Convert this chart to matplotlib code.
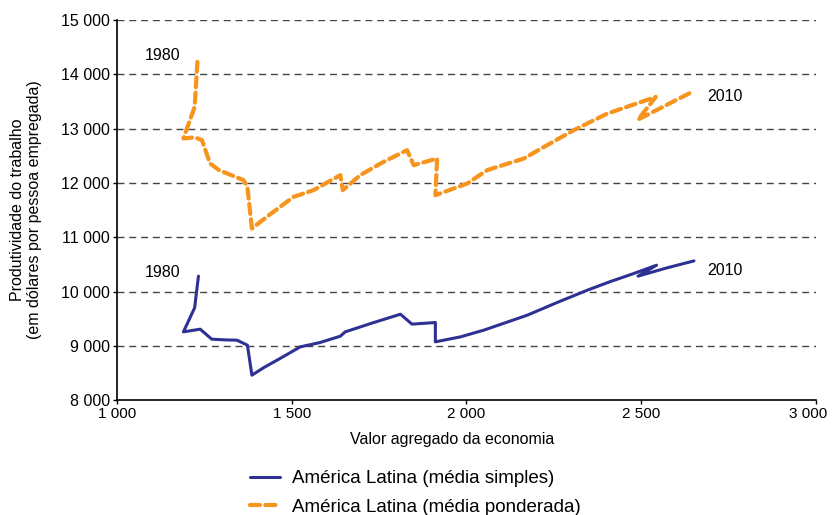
import matplotlib.pyplot as plt
import matplotlib.transforms as mtransforms
from matplotlib.ticker import FuncFormatter

plt.rcParams['font.family'] = ['Liberation Sans', 'DejaVu Sans']

# Valor agregado (x) e produtividade (y), 1980-2010
x_simples = [1233, 1222, 1190, 1238, 1271, 1310, 1343, 1373, 1386, 1420, 1470,
             1524, 1580, 1639, 1653, 1730, 1811, 1844, 1911, 1911, 1983, 2050,
             2174, 2260, 2346, 2410, 2479, 2544, 2491, 2570, 2651]
y_simples = [10284, 9700, 9258, 9307, 9123, 9110, 9105, 9013, 8460, 8600, 8780,
             8981, 9060, 9178, 9258, 9420, 9583, 9400, 9430, 9074, 9166, 9290,
             9565, 9800, 10026, 10180, 10333, 10486, 10284, 10430, 10565]

x_ponderada = [1230, 1222, 1190, 1222, 1243, 1266, 1292, 1362, 1373, 1386, 1410,
               1450, 1505, 1562, 1639, 1646, 1696, 1760, 1830, 1849, 1916, 1911,
               2002, 2059, 2164, 2222, 2307, 2403, 2542, 2491, 2651]
y_ponderada = [14230, 13400, 12820, 12840, 12790, 12360, 12236, 12052, 11928, 11160, 11284,
               11480, 11744, 11867, 12144, 11867, 12144, 12380, 12604, 12328, 12450, 11775,
               11990, 12236, 12450, 12665, 12972, 13278, 13585, 13168, 13695]

x_ticks = [1000, 1500, 2000, 2500, 3000]
y_ticks = [8000, 9000, 10000, 11000, 12000, 13000, 14000, 15000]

fig = plt.figure(figsize=(8.33, 5.15), dpi=100)
ax = fig.add_axes([0.1405, 0.223, 0.839, 0.738])

for y in y_ticks[1:]:
    ax.axhline(y, color='#444444', lw=1, ls=(0, (5, 3.5)), zorder=0)

ax.plot(x_simples, y_simples, color='#2e3192', lw=2.2, solid_joinstyle='round',
        solid_capstyle='round', label='América Latina (média simples)')
ax.plot(x_ponderada, y_ponderada, color='#f7941d', lw=3, ls=(0, (2.4, 1.3)),
        dash_capstyle='round', label='América Latina (média ponderada)')

ax.text(1080, 14340, '1980', fontsize=11.5, ha='left', va='center')
ax.text(1080, 10350, '1980', fontsize=11.5, ha='left', va='center')
ax.text(2690, 13600, '2010', fontsize=11.5, ha='left', va='center')
ax.text(2690, 10380, '2010', fontsize=11.5, ha='left', va='center')

ax.set_xlim(1000, 3000)
ax.set_ylim(8000, 15000)
ax.set_xticks(x_ticks)
ax.set_yticks(y_ticks)
fmt = FuncFormatter(lambda v, p: '{:,.0f}'.format(v).replace(',', ' '))
ax.xaxis.set_major_formatter(fmt)
ax.yaxis.set_major_formatter(fmt)
ax.tick_params(labelsize=11.5, length=3, width=1, direction='out', pad=2)
ax.tick_params(axis='x', labelsize=11)

# el ultimo rotulo del eje x se corre un poco a la izquierda para que entre
ultimo = ax.get_xticklabels()[-1]
ultimo.set_transform(ultimo.get_transform() +
                     mtransforms.ScaledTranslation(-8 / 100, 0, fig.dpi_scale_trans))

for s in ['top', 'right']:
    ax.spines[s].set_visible(False)
for s in ['left', 'bottom']:
    ax.spines[s].set_linewidth(1.2)

ax.set_xlabel('Valor agregado da economia', fontsize=11.5)
ax.xaxis.set_label_coords(0.48, -0.085)
ax.set_ylabel('Produtividade do trabalho\n(em dólares por pessoa empregada)', fontsize=11.5)
ax.yaxis.set_label_coords(-0.107, 0.5)

ax.legend(loc='upper left', bbox_to_anchor=(0.18, -0.165), frameon=False, fontsize=13.5,
          handlelength=1.6, handletextpad=0.6, labelspacing=0.6, borderaxespad=0)

fig.savefig('out.png', dpi=100)
